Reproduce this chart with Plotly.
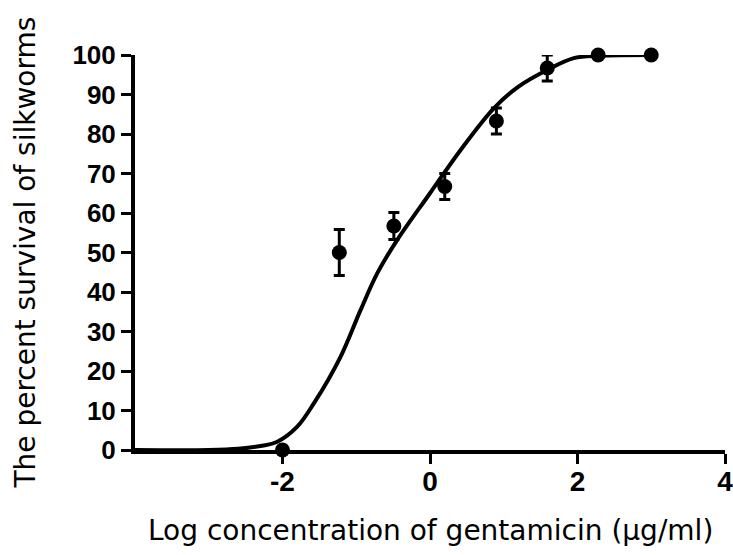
import plotly.graph_objects as go

# Data points (log concentration, % survival, SEM)
log_conc = [-2.0, -1.23, -0.49, 0.2, 0.9, 1.59, 2.28, 3.0]
survival = [0.0, 50.0, 56.7, 66.7, 83.3, 96.7, 100.0, 100.0]
sem = [0.0, 5.8, 3.4, 3.3, 3.3, 3.3, 0.0, 0.0]

# Fitted curve
curve_x = [-4.0, -3.0, -2.6, -2.3, -2.07, -1.8, -1.575, -1.213, -0.942, -0.716,
           -0.444, 0.0, 0.413, 0.865, 1.2, 1.588, 1.95, 2.3, 3.0]
curve_y = [0.0, 0.0, 0.3, 1.0, 2.1, 5.9, 11.8, 23.6, 35.4, 44.7,
           53.2, 65.0, 75.9, 86.5, 92.0, 96.2, 99.2, 99.8, 100.0]

x_ticks = [-2, 0, 2, 4]
y_ticks = [0, 10, 20, 30, 40, 50, 60, 70, 80, 90, 100]

x_title = "Log concentration of gentamicin (μg/ml)"
y_title = "The percent survival of silkworms"

fig = go.Figure()
fig.add_trace(go.Scatter(
    x=curve_x, y=curve_y, mode="lines",
    line=dict(color="black", width=4, shape="spline", smoothing=1.0),
    cliponaxis=False, hoverinfo="skip", showlegend=False))
fig.add_trace(go.Scatter(
    x=log_conc, y=survival, mode="markers",
    marker=dict(color="black", size=15, symbol="circle"),
    error_y=dict(type="data", array=sem, visible=True, color="black",
                 thickness=3, width=5.5),
    cliponaxis=False, showlegend=False))

tick_family = "Liberation Sans, Arial, sans-serif"
title_font = dict(family="DejaVu Sans, Verdana, sans-serif", size=28, color="black")

fig.update_layout(
    width=733, height=555,
    margin=dict(l=135, r=8, t=55, b=105),
    paper_bgcolor="white", plot_bgcolor="white",
    xaxis=dict(range=[-4, 4], tickvals=x_ticks, ticktext=[str(v) for v in x_ticks],
               showgrid=False, zeroline=False, showline=True, linecolor="black",
               linewidth=4, ticks="outside", ticklen=10, tickwidth=3,
               tickcolor="black", automargin=False, ticklabelstandoff=-7,
               ticklabeloverflow="allow",
               tickfont=dict(family=tick_family, size=28, color="black", weight="bold")),
    yaxis=dict(range=[0, 100], tickvals=y_ticks,
               showgrid=False, zeroline=False, showline=True, linecolor="black",
               linewidth=4, ticks="outside", ticklen=10, tickwidth=3,
               tickcolor="black", automargin=False, ticklabeloverflow="allow",
               tickfont=dict(family=tick_family, size=26, color="black", weight="bold")),
    annotations=[
        dict(text=x_title, xref="paper", yref="paper", x=0.5, y=(450 - 530) / 395,
             xanchor="center", yanchor="middle", showarrow=False, font=title_font),
        dict(text=y_title, xref="paper", yref="paper", x=(25 - 135) / 590, y=0.5,
             xanchor="center", yanchor="middle", textangle=-90, showarrow=False,
             font=title_font),
    ],
)

fig.write_html("out.html")
